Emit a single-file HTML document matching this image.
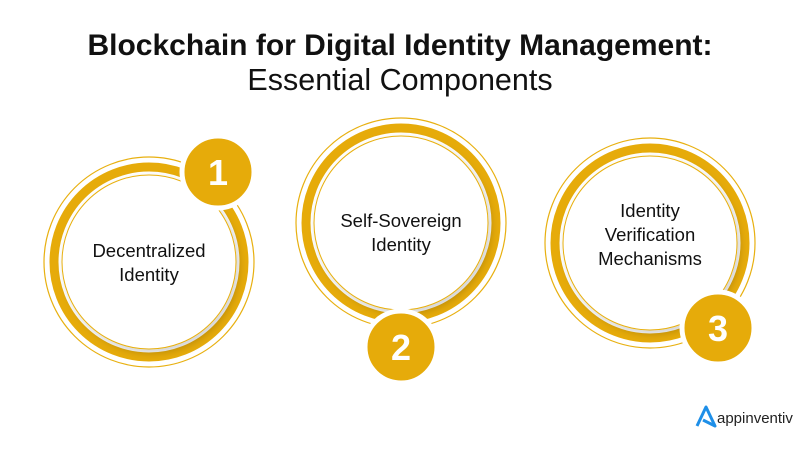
<!DOCTYPE html>
<html><head><meta charset="utf-8"><style>
body{margin:0;width:801px;height:450px;background:#fff;overflow:hidden;font-family:"Liberation Sans",sans-serif}
</style></head><body>
<svg width="801" height="450" xmlns="http://www.w3.org/2000/svg" font-family="Liberation Sans, sans-serif">
<defs>
<filter id="sh" x="-20%" y="-20%" width="140%" height="140%"><feDropShadow dx="3" dy="4" stdDeviation="4" flood-color="#000" flood-opacity="0.18"/></filter>
</defs>
<text x="400" y="55" text-anchor="middle" font-size="30" font-weight="bold" fill="#111">Blockchain for Digital Identity Management:</text>
<text x="400" y="90" text-anchor="middle" font-size="30.5" fill="#111">Essential Components</text>

<g>
<circle cx="149" cy="262" r="105" fill="#fff" stroke="#e8b010" stroke-width="1.2"/>
<circle cx="149" cy="262" r="95" fill="none" stroke="#e6ab0a" stroke-width="9"/>
<circle cx="149" cy="262" r="87" fill="#fff" stroke="#e8b010" stroke-width="1" filter="url(#sh)"/>
<circle cx="218" cy="172" r="36" fill="#e6ab0a" stroke="#fff" stroke-width="5"/>
<text x="218" y="185" text-anchor="middle" font-size="36" font-weight="bold" fill="#fff">1</text>
<text x="149" y="257" text-anchor="middle" font-size="18.5" fill="#111">Decentralized</text>
<text x="149" y="281" text-anchor="middle" font-size="18.5" fill="#111">Identity</text>
</g>

<g>
<circle cx="401" cy="223" r="105" fill="#fff" stroke="#e8b010" stroke-width="1.2"/>
<circle cx="401" cy="223" r="95" fill="none" stroke="#e6ab0a" stroke-width="9"/>
<circle cx="401" cy="223" r="87" fill="#fff" stroke="#e8b010" stroke-width="1" filter="url(#sh)"/>
<circle cx="401" cy="347" r="36" fill="#e6ab0a" stroke="#fff" stroke-width="5"/>
<text x="401" y="360" text-anchor="middle" font-size="36" font-weight="bold" fill="#fff">2</text>
<text x="401" y="227" text-anchor="middle" font-size="18.5" fill="#111">Self-Sovereign</text>
<text x="401" y="251" text-anchor="middle" font-size="18.5" fill="#111">Identity</text>
</g>

<g>
<circle cx="650" cy="243" r="105" fill="#fff" stroke="#e8b010" stroke-width="1.2"/>
<circle cx="650" cy="243" r="95" fill="none" stroke="#e6ab0a" stroke-width="9"/>
<circle cx="650" cy="243" r="87" fill="#fff" stroke="#e8b010" stroke-width="1" filter="url(#sh)"/>
<circle cx="718" cy="328" r="36" fill="#e6ab0a" stroke="#fff" stroke-width="5"/>
<text x="718" y="341" text-anchor="middle" font-size="36" font-weight="bold" fill="#fff">3</text>
<text x="650" y="217" text-anchor="middle" font-size="18.5" fill="#111">Identity</text>
<text x="650" y="241" text-anchor="middle" font-size="18.5" fill="#111">Verification</text>
<text x="650" y="265" text-anchor="middle" font-size="18.5" fill="#111">Mechanisms</text>
</g>

<path d="M697 426 L706 407 L715 426 L703 420" fill="none" stroke="#1e8fe8" stroke-width="3" stroke-linejoin="round"/>
<text x="717" y="423" font-size="15" fill="#222">appinventiv</text>
</svg>
</body></html>
